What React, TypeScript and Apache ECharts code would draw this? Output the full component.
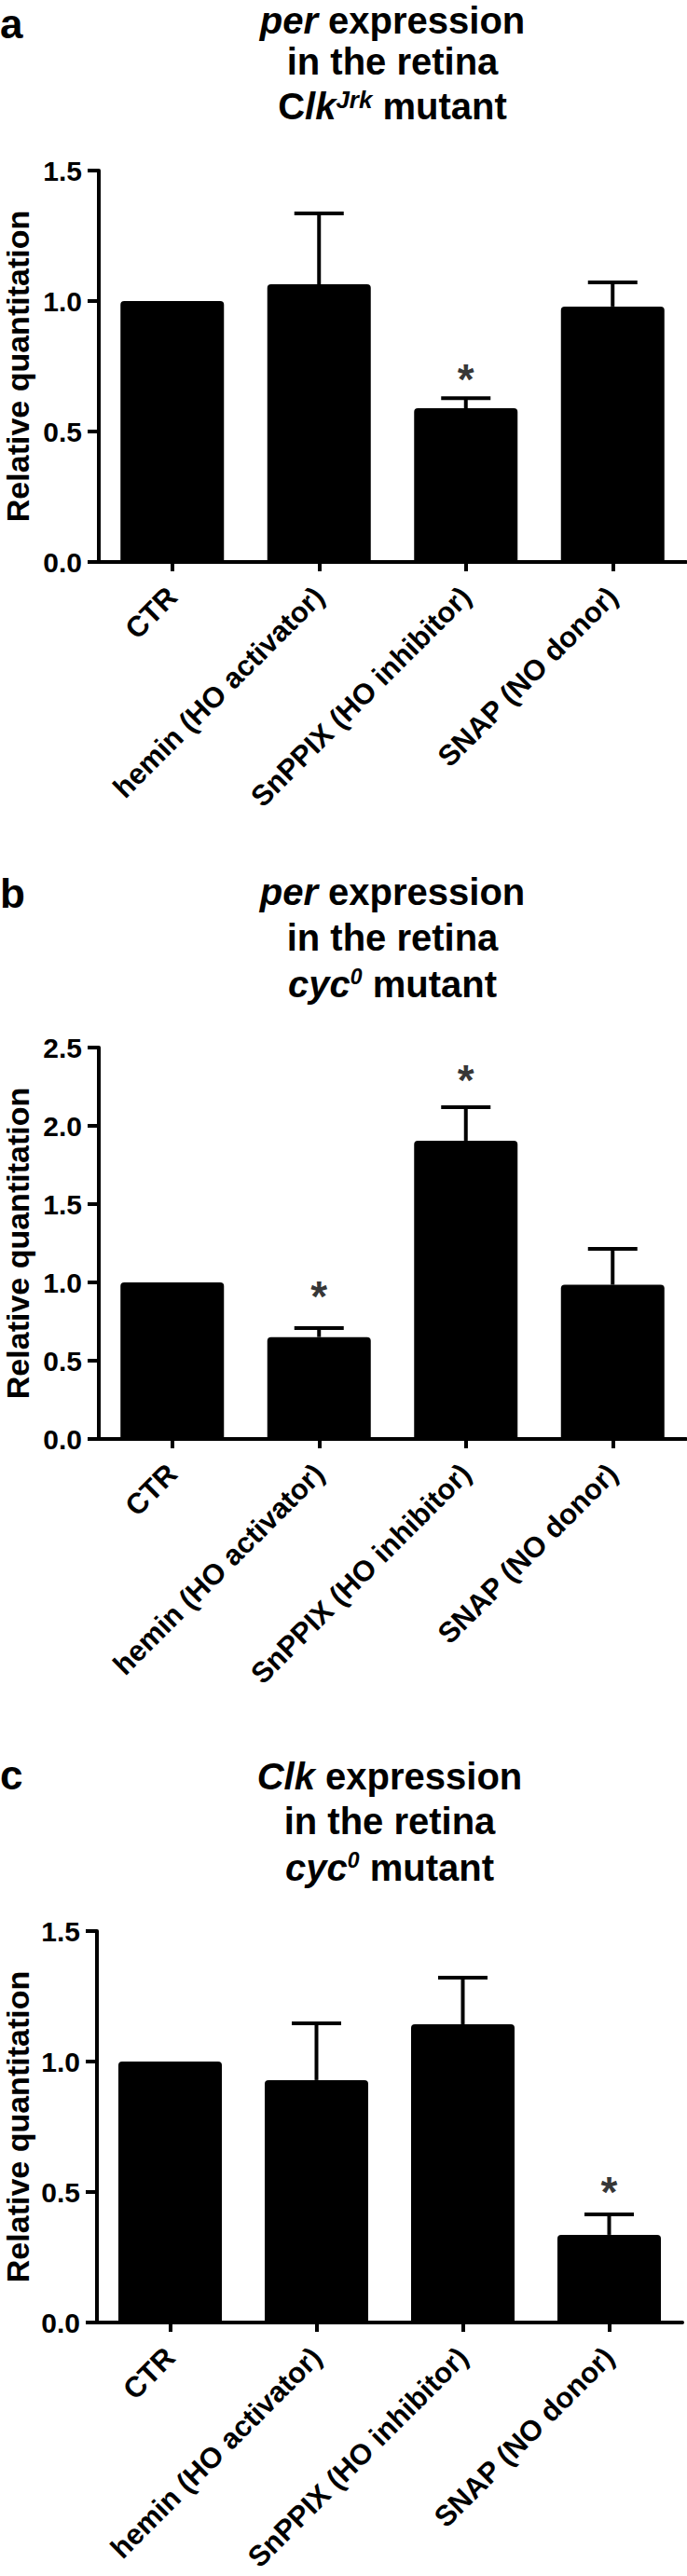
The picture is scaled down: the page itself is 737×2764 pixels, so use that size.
import React, { useEffect, useRef } from 'react';
import * as echarts from 'echarts';

// ---------- data ----------
const categories = ['CTR', 'hemin (HO activator)', 'SnPPIX (HO inhibitor)', 'SNAP (NO donor)'];

const meansA = [1.0, 1.064, 0.589, 0.979];
const errA = [0, 0.272, 0.039, 0.092];
const starsA: (number | null)[] = [null, null, 0.736, null];

const meansB = [1.0, 0.651, 1.905, 0.985];
const errB = [0, 0.057, 0.214, 0.229];
const starsB: (number | null)[] = [null, 0.97, 2.35, null];

const meansC = [1.0, 0.929, 1.143, 0.336];
const errC = [0, 0.217, 0.178, 0.078];
const starsC: (number | null)[] = [null, null, null, 0.536];

const yMaxA = 1.5;
const yMaxB = 2.5;
const yMaxC = 1.5;
const yInterval = 0.5;

const yAxisTitle = 'Relative quantitation';
const panelLetters = ['a', 'b', 'c'];
const titleA = ['{i|per} expression', 'in the retina', 'C{i|lk}{sup|Jrk} mutant'];
const titleB = ['{i|per} expression', 'in the retina', '{i|cyc}{sup0|0} mutant'];
const titleC = ['{i|Clk} expression', 'in the retina', '{i|cyc}{sup0|0} mutant'];

// ---------- layout (positions / styles only) ----------
const FONT = '"Liberation Sans", Arial, Helvetica, sans-serif';
const W = 737;
const H = 2764;

const layouts = [
  { left: 106, top: 183, width: 630, height: 420, titleX: 421, titleY: [21.5, 66, 114], letterY: 25, nameX: 19 },
  { left: 106, top: 1124, width: 630, height: 420, titleX: 421, titleY: [957, 1006, 1056], letterY: 958, nameX: 19 },
  { left: 104, top: 2072, width: 628, height: 420, titleX: 418, titleY: [1906, 1954, 2004], letterY: 1904, nameX: 19 },
];

const panels = [
  { means: meansA, err: errA, stars: starsA, yMax: yMaxA, title: titleA },
  { means: meansB, err: errB, stars: starsB, yMax: yMaxB, title: titleB },
  { means: meansC, err: errC, stars: starsC, yMax: yMaxC, title: titleC },
];

function buildOption() {
  const grid: any[] = [];
  const xAxis: any[] = [];
  const yAxis: any[] = [];
  const series: any[] = [];
  const graphic: any[] = [];

  const axisLineStyle = { color: '#000', width: 4 };

  panels.forEach((p, k) => {
    const L = layouts[k];
    grid.push({ left: L.left, top: L.top, width: L.width, height: L.height, containLabel: false });
    xAxis.push({
      type: 'category',
      gridIndex: k,
      data: categories,
      boundaryGap: true,
      axisLine: { show: true, lineStyle: axisLineStyle },
      axisTick: { show: true, alignWithLabel: true, length: 10, lineStyle: axisLineStyle },
      axisLabel: { rotate: 45, margin: 32, interval: 0, color: '#000', fontSize: 31, fontWeight: 'bold', fontFamily: FONT },
      splitLine: { show: false },
    });
    yAxis.push({
      type: 'value',
      gridIndex: k,
      min: 0,
      max: p.yMax,
      interval: yInterval,
      axisLine: { show: true, lineStyle: axisLineStyle },
      axisTick: { show: true, length: 12, lineStyle: axisLineStyle },
      splitLine: { show: false },
      axisLabel: {
        formatter: (v: number) => v.toFixed(1),
        margin: 18,
        color: '#000',
        fontSize: 30,
        fontWeight: 'bold',
        fontFamily: FONT,
      },
    });

    series.push({
      type: 'bar',
      xAxisIndex: k,
      yAxisIndex: k,
      data: p.means,
      barWidth: 111,
      itemStyle: { color: '#000', borderRadius: [4, 4, 0, 0] },
      z: 2,
    });

    series.push({
      type: 'custom',
      xAxisIndex: k,
      yAxisIndex: k,
      data: p.means.map((m, i) => [i, m, p.err[i]]),
      encode: { x: 0, y: 1 },
      z: 3,
      renderItem: (params: any, api: any) => {
        const i = api.value(0);
        const m = api.value(1);
        const e = api.value(2);
        if (!e) return null;
        const p0 = api.coord([i, m]);
        const p1 = api.coord([i, m + e]);
        const half = 26.5;
        return {
          type: 'group',
          children: [
            { type: 'line', shape: { x1: p0[0], y1: p0[1], x2: p1[0], y2: p1[1] }, style: { stroke: '#000', lineWidth: 4 } },
            { type: 'line', shape: { x1: p1[0] - half, y1: p1[1], x2: p1[0] + half, y2: p1[1] }, style: { stroke: '#000', lineWidth: 4 } },
          ],
        };
      },
    });

    const starData: number[][] = [];
    p.stars.forEach((v, i) => {
      if (v != null) starData.push([i, v]);
    });
    series.push({
      type: 'scatter',
      xAxisIndex: k,
      yAxisIndex: k,
      data: starData,
      symbolSize: 1,
      itemStyle: { color: 'rgba(0,0,0,0)' },
      label: {
        show: true,
        formatter: '*',
        position: 'inside',
        offset: [0, 10],
        color: '#000',
        fontSize: 46,
        fontWeight: 'bold',
        fontFamily: FONT,
      },
      z: 4,
    });

    // y-axis title
    graphic.push({
      type: 'text',
      x: L.nameX,
      y: L.top + L.height / 2,
      rotation: Math.PI / 2,
      style: {
        text: yAxisTitle,
        fill: '#000',
        fontSize: 34,
        fontWeight: 'bold',
        fontFamily: FONT,
        align: 'center',
        verticalAlign: 'middle',
      },
    });

    // panel letter
    graphic.push({
      type: 'text',
      x: 0,
      y: L.letterY,
      style: {
        text: panelLetters[k],
        fill: '#000',
        fontSize: 44,
        fontWeight: 'bold',
        fontFamily: FONT,
        align: 'left',
        verticalAlign: 'middle',
      },
    });

    // title lines
    p.title.forEach((line, j) => {
      graphic.push({
        type: 'text',
        x: L.titleX,
        y: L.titleY[j],
        style: {
          text: line,
          fill: '#000',
          fontSize: 40,
          fontWeight: 'bold',
          fontFamily: FONT,
          align: 'center',
          verticalAlign: 'middle',
          lineHeight: 40,
          rich: {
            i: { fontStyle: 'italic', fontWeight: 'bold', fontSize: 40, fontFamily: FONT, lineHeight: 40, fill: '#000' },
            sup: { fontStyle: 'italic', fontWeight: 'bold', fontSize: 26, fontFamily: FONT, lineHeight: 18, verticalAlign: 'top', fill: '#000' },
            sup0: { fontStyle: 'italic', fontWeight: 'bold', fontSize: 23, fontFamily: FONT, lineHeight: 16, verticalAlign: 'top', fill: '#000' },
          },
        },
      });
    });
  });

  return {
    animation: false,
    backgroundColor: '#fff',
    grid,
    xAxis,
    yAxis,
    series,
    graphic,
  };
}

export default function App() {
  const ref = useRef<HTMLDivElement>(null);
  useEffect(() => {
    document.body.style.margin = '0';
    if (!ref.current) return;
    const chart = echarts.init(ref.current, undefined, { renderer: 'svg' });
    chart.setOption(buildOption() as any);
    return () => {
      chart.dispose();
    };
  }, []);
  return <div ref={ref} style={{ width: W, height: H, background: '#fff' }} />;
}
